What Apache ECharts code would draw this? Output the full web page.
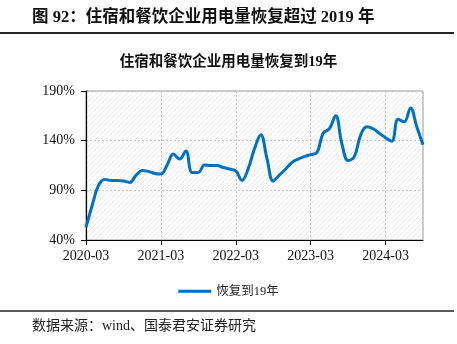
<!DOCTYPE html>
<html>
<head>
<meta charset="utf-8">
<script src="https://cdn.jsdelivr.net/npm/echarts@6/dist/echarts.min.js"></script>
<style>
  html, body { margin: 0; padding: 0; background: #fff; }
  #chart { width: 457px; height: 344px; }
</style>
</head>
<body>
<div id="chart"></div>
<script>
// Monthly electricity consumption of accommodation & catering firms, relative to 2019 (%)
const months = [
  '2020-03','2020-04','2020-05','2020-06','2020-07','2020-08','2020-09','2020-10','2020-11','2020-12',
  '2021-01','2021-02','2021-03','2021-04','2021-05','2021-06','2021-07','2021-08','2021-09','2021-10','2021-11','2021-12',
  '2022-01','2022-02','2022-03','2022-04','2022-05','2022-06','2022-07','2022-08','2022-09','2022-10','2022-11','2022-12',
  '2023-01','2023-02','2023-03','2023-04','2023-05','2023-06','2023-07','2023-08','2023-09','2023-10','2023-11','2023-12',
  '2024-01','2024-02','2024-03','2024-04','2024-05','2024-06','2024-07','2024-08','2024-09'
];
const recoveryVs2019 = [
  53, 75, 95, 101, 100, 100, 99.5, 98, 105, 110,
  109, 107, 106.5, 115.5, 126.5, 121.5, 129.5, 108, 108, 115.5, 115, 115,
  113, 111.5, 109.5, 100, 112, 132, 146, 122, 99.5, 105.5, 111.5, 118,
  121.5, 124, 126, 128, 147.5, 152, 165, 137, 120, 124, 145.5, 154,
  152, 147.5, 143, 139.5, 161.5, 159, 173, 154, 136
];
const seriesName = '恢复到19年';
const yTicks = { min: 40, max: 190, step: 50 };

// light diagonal hatch for the plotting area
function hatchPattern() {
  const c = document.createElement('canvas');
  const s = 5;
  c.width = s; c.height = s;
  const g = c.getContext('2d');
  g.fillStyle = '#ffffff';
  g.fillRect(0, 0, s, s);
  g.strokeStyle = '#ebebeb';
  g.lineWidth = 1;
  g.beginPath();
  g.moveTo(0, s); g.lineTo(s, 0);
  g.moveTo(-1, 1); g.lineTo(1, -1);
  g.moveTo(s - 1, s + 1); g.lineTo(s + 1, s - 1);
  g.stroke();
  return { image: c, repeat: 'repeat' };
}

const serif = '"Liberation Serif", "Times New Roman", "Noto Sans CJK SC", serif';
const chart = echarts.init(document.getElementById('chart'), null, { renderer: 'canvas' });

chart.setOption({
  animation: false,
  backgroundColor: '#ffffff',
  title: {
    text: '住宿和餐饮企业用电量恢复到19年',
    left: 'center',
    top: 50,
    textStyle: { fontFamily: serif, fontSize: 14.5, fontWeight: 'bold', color: '#111' }
  },
  legend: {
    data: [{ name: seriesName, icon: 'rect' }],
    left: 'center',
    top: 280,
    itemWidth: 33,
    itemHeight: 3,
    itemGap: 4,
    textStyle: { fontFamily: serif, fontSize: 12.5, color: '#222' }
  },
  grid: {
    left: 86, right: 34, top: 91, bottom: 104,
    show: true,
    borderColor: '#9a9a9a',
    borderWidth: 1,
    backgroundColor: hatchPattern()
  },
  xAxis: {
    type: 'category',
    data: months,
    boundaryGap: false,
    axisLine: { lineStyle: { color: '#000', width: 1.2 } },
    axisTick: { show: true, interval: 11, length: 5, lineStyle: { color: '#000' } },
    axisLabel: {
      interval: 11, margin: 9, color: '#111',
      fontFamily: serif, fontSize: 14
    },
    splitLine: {
      show: true, interval: 11,
      lineStyle: { color: '#c8c8c8', type: [2, 2], width: 1 }
    }
  },
  yAxis: {
    type: 'value',
    min: yTicks.min, max: yTicks.max, interval: yTicks.step,
    axisLine: { show: true, lineStyle: { color: '#000', width: 1.2 } },
    axisTick: { show: true, length: 5, lineStyle: { color: '#000' } },
    axisLabel: {
      formatter: '{value}%', margin: 11, color: '#111',
      fontFamily: serif, fontSize: 14
    },
    splitLine: { lineStyle: { color: '#c8c8c8', type: [2, 2], width: 1 } }
  },
  series: [{
    name: seriesName,
    type: 'line',
    data: recoveryVs2019,
    smooth: 0.4,
    showSymbol: false,
    symbol: 'none',
    lineStyle: { color: '#0070c0', width: 3 },
    itemStyle: { color: '#0070c0' }
  }],
  graphic: [
    {
      type: 'text', left: 32, top: 9,
      style: {
        text: '图 92：住宿和餐饮企业用电量恢复超过 2019 年',
        font: 'bold 16.5px "Liberation Serif", "Noto Sans CJK SC", serif',
        fill: '#111'
      }
    },
    {
      type: 'line',
      shape: { x1: 0, y1: 33, x2: 454, y2: 33 },
      style: { stroke: '#222', lineWidth: 2 }
    },
    {
      type: 'line',
      shape: { x1: 0, y1: 311, x2: 454, y2: 311 },
      style: { stroke: '#222', lineWidth: 1.5 }
    },
    {
      type: 'text', left: 32, top: 319,
      style: {
        text: '数据来源：wind、国泰君安证券研究',
        font: '14px "Liberation Serif", "Noto Sans CJK SC", serif',
        fill: '#222'
      }
    }
  ]
});
</script>
</body>
</html>
